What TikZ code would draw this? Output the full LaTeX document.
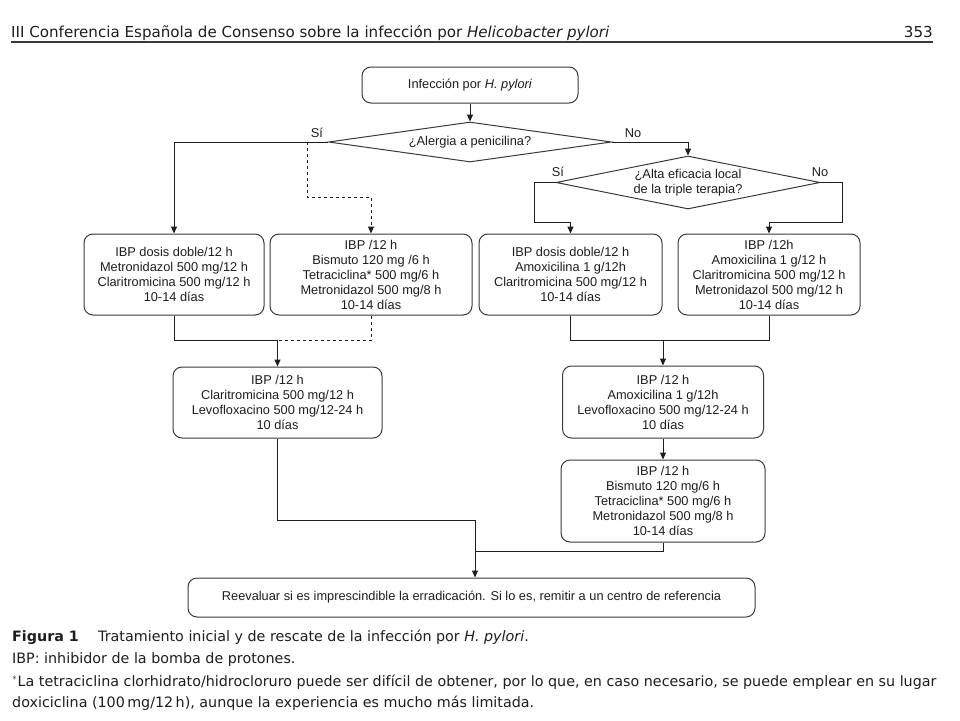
\documentclass[tikz,border=0pt]{standalone}
\usepackage{fontspec}
\setmainfont{Liberation Sans}
\newfontfamily\hdrfont{DejaVu Sans}
\usetikzlibrary{arrows.meta,shapes.geometric,calc}
\definecolor{txt}{HTML}{1E1E1E}
\definecolor{boxc}{HTML}{3A3A3A}
\definecolor{linec}{HTML}{1E1E1E}
\begin{document}
\begin{tikzpicture}[x=1pt,y=-1pt,
  box/.style={draw=boxc, line width=1pt, rounded corners=9pt, align=center,
    font=\fontsize{12.8}{15}\selectfont, text=txt, inner sep=2pt},
  conn/.style={draw=linec, line width=1pt},
  arr/.style={conn, -{Triangle[length=7pt,width=6pt]}},
  dec/.style={draw=boxc, line width=1pt, shape=diamond, inner sep=0pt, align=center,
    font=\fontsize{12.8}{15}\selectfont, text=txt},
  lbl/.style={font=\fontsize{12.8}{15}\selectfont, text=txt, inner sep=0pt},
  hdr/.style={font=\hdrfont\fontsize{15.1}{18}\selectfont, text=txt, inner sep=0pt},
  captxt/.style={font=\hdrfont\fontsize{14.3}{17}\selectfont, text=txt, inner sep=0pt}]
\useasboundingbox (0,0) rectangle (960,720);
\fill[white] (0,0) rectangle (960,720);

% header
\node[hdr, anchor=base west] (head) at (11,37) {III Conferencia Española de Consenso sobre la infección por \textit{Helicobacter pylori}};
\node[hdr, anchor=base east] (page) at (933,37) {353};
\coordinate (rl) at (11,42);
\coordinate (rr) at (933,42);
\draw[line width=1.6pt, color=boxc] (rl) -- (rr);

% nodes
\node[box, minimum width=216pt, minimum height=36pt] (top) at (470,85) {Infección por \textit{H. pylori}};
\node[dec, aspect=7, minimum width=283pt, minimum height=40pt] (d1) at (470,142) {¿Alergia a penicilina?};
\node[dec, aspect=5, minimum width=264pt, minimum height=53pt] (d2) at (688,182.5) {¿Alta eficacia local\\de la triple terapia?};

\node[box, minimum width=180pt, minimum height=81pt] (b1) at (174,274.5)
  {IBP dosis doble/12 h\\Metronidazol 500 mg/12 h\\Claritromicina 500 mg/12 h\\10-14 días};
\node[box, minimum width=202pt, minimum height=81pt] (b2) at (371,274.5)
  {IBP /12 h\\Bismuto 120 mg /6 h\\Tetraciclina* 500 mg/6 h\\Metronidazol 500 mg/8 h\\10-14 días};
\node[box, minimum width=183pt, minimum height=81pt] (b3) at (570.5,274.5)
  {IBP dosis doble/12 h\\Amoxicilina 1 g/12h\\Claritromicina 500 mg/12 h\\10-14 días};
\node[box, minimum width=182pt, minimum height=81pt] (b4) at (769,274.5)
  {IBP /12h\\Amoxicilina 1 g/12 h\\Claritromicina 500 mg/12 h\\Metronidazol 500 mg/12 h\\10-14 días};
\node[box, minimum width=209pt, minimum height=71pt] (b5) at (277.5,402.5)
  {IBP /12 h\\Claritromicina 500 mg/12 h\\Levofloxacino 500 mg/12-24 h\\10 días};
\node[box, minimum width=201pt, minimum height=72pt] (b6) at (663,402)
  {IBP /12 h\\Amoxicilina 1 g/12h\\Levofloxacino 500 mg/12-24 h\\10 días};
\node[box, minimum width=204pt, minimum height=82pt] (b7) at (663,501)
  {IBP /12 h\\Bismuto 120 mg/6 h\\Tetraciclina* 500 mg/6 h\\Metronidazol 500 mg/8 h\\10-14 días};
\node[box, minimum width=567pt, minimum height=39pt] (b8) at (471.5,597.5)
  {Reevaluar si es imprescindible la erradicación. Si lo es, remitir a un centro de referencia};

% labels
\node[lbl] (s1) at (317,133) {Sí};
\node[lbl] (n1) at (633,133) {No};
\node[lbl] (s2) at (558,172) {Sí};
\node[lbl] (n2) at (820,172) {No};

% connectors
\draw[arr] (top.south) -- (d1.north);
\draw[arr] (d1.west) -| (b1.north);
\coordinate (dj) at (307,142);
\coordinate (dk) at (307,197);
\draw[arr, dashed] (dj) -- (dk) -| (b2.north);
\draw[arr] (d1.east) -| (d2.north);
\coordinate (sl) at (534,222);
\coordinate (sr) at (842,222);
\draw[arr] (d2.west) -| (sl) -| (b3.north);
\draw[arr] (d2.east) -| (sr) -| (b4.north);

\coordinate (j1) at (277.5,340);
\draw[conn] (b1.south) |- (j1);
\draw[conn, dashed] (b2.south) |- (j1);
\draw[arr] (j1) -- (b5.north);

\coordinate (j2) at (663,340);
\draw[conn] (b3.south) |- (j2);
\draw[conn] (b4.south) |- (j2);
\draw[arr] (j2) -- (b6.north);
\draw[arr] (b6.south) -- (b7.north);

\coordinate (j3) at (475,520);
\coordinate (j4) at (475,551);
\draw[conn] (b5.south) |- (j3);
\draw[conn] (b7.south) |- (j4);
\draw[arr] (j3) -- (j3 |- b8.north);

% caption
\node[captxt, anchor=base west] (c1) at (12,641) {\bfseries Figura 1};
\node[captxt, anchor=base west] (c1b) at (98,641) {Tratamiento inicial y de rescate de la infección por \textit{H. pylori}.};
\node[captxt, anchor=base west] (c2) at (12,663) {IBP: inhibidor de la bomba de protones.};
\node[captxt, anchor=base west] (c3) at (12,686) {$^{*}$La tetraciclina clorhidrato/hidrocloruro puede ser difícil de obtener, por lo que, en caso necesario, se puede emplear en su lugar};
\node[captxt, anchor=base west] (c4) at (12,707) {doxiciclina (100\,mg/12\,h), aunque la experiencia es mucho más limitada.};
\end{tikzpicture}
\end{document}
